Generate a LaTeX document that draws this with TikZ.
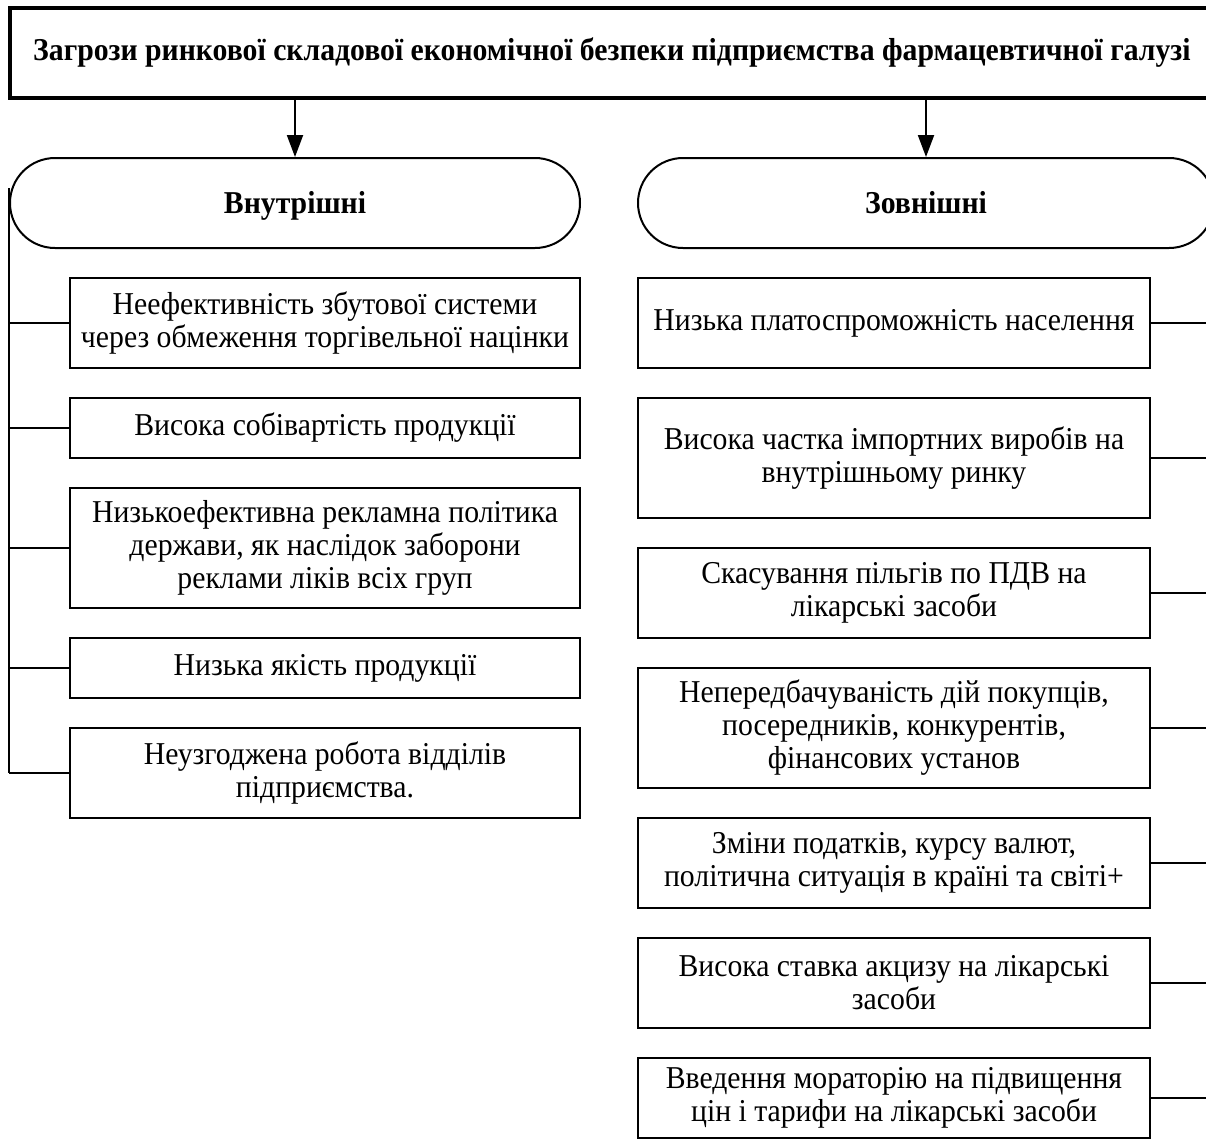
\documentclass[tikz,border=0pt]{standalone}
\usepackage{fontspec}
\setmainfont[FakeStretch=0.935]{Liberation Serif}
\usetikzlibrary{arrows.meta, positioning, calc}

\tikzset{
	threat/.style={draw, line width=2.5pt, align=center, inner sep=0pt, font=\fontsize{31.8}{33}\selectfont},
	group/.style={draw, line width=2pt, rounded corners=45pt, minimum height=90pt, inner sep=0pt, text height=24pt, text depth=4pt, font=\bfseries\fontsize{31.8}{33}\selectfont},
	link/.style={line width=2pt},
}

\begin{document}
\begin{tikzpicture}[x=1pt, y=-1pt]
	\useasboundingbox (0,0) rectangle (1206,1144);
	\clip (0,0) rectangle (1206,1144);

	\node[draw, line width=4pt, minimum width=1204pt, minimum height=90pt, inner sep=0pt, font=\bfseries\fontsize{31.8}{33}\selectfont] (top) at (612,53) {Загрози ринкової складової економічної безпеки підприємства фармацевтичної галузі};

	\node[group, minimum width=570pt] (int) at (295,203) {Внутрішні};
	\node[group, minimum width=576pt] (ext) at (926,203) {Зовнішні};
	\draw[link, ->, >={Triangle[length=22pt, width=16pt]}] (int.north |- top.south) -- (int.north);
	\draw[link, ->, >={Triangle[length=22pt, width=16pt]}] (ext.north |- top.south) -- (ext.north);

	% internal threats
	\node[threat, minimum width=510pt, minimum height=90pt] (l1) at (325,323) {Неефективність збутової системи\\через обмеження торгівельної націнки};
	\node[threat, minimum width=510pt, minimum height=60pt] (l2) at (325,428) {Висока собівартість продукції};
	\node[threat, minimum width=510pt, minimum height=120pt] (l3) at (325,548) {Низькоефективна рекламна політика\\держави, як наслідок заборони\\реклами ліків всіх груп};
	\node[threat, minimum width=510pt, minimum height=60pt] (l4) at (325,668) {Низька якість продукції};
	\node[threat, minimum width=510pt, minimum height=90pt] (l5) at (325,773) {Неузгоджена робота відділів\\підприємства.};

	% external threats
	\node[threat, minimum width=512pt, minimum height=90pt] (r1) at (894,323) {Низька платоспроможність населення};
	\node[threat, minimum width=512pt, minimum height=120pt] (r2) at (894,458) {Висока частка імпортних виробів на\\внутрішньому ринку};
	\node[threat, minimum width=512pt, minimum height=90pt] (r3) at (894,593) {Скасування пільгів по ПДВ на\\лікарські засоби};
	\node[threat, minimum width=512pt, minimum height=120pt] (r4) at (894,728) {Непередбачуваність дій покупців,\\посередників, конкурентів,\\фінансових установ};
	\node[threat, minimum width=512pt, minimum height=90pt] (r5) at (894,863) {Зміни податків, курсу валют,\\політична ситуація в країні та світі+};
	\node[threat, minimum width=512pt, minimum height=90pt] (r6) at (894,983) {Висока ставка акцизу на лікарські\\засоби};
	\node[threat, minimum width=512pt, minimum height=80pt] (r7) at (894,1098) {Введення мораторію на підвищення\\цін і тарифи на лікарські засоби};

	\draw[link] ($(int.west)+(0,-15)$) -- (int.west |- l5.west);
	\foreach \i in {1,...,5}
		\draw[link] (l\i.west) -- (int.west |- l\i.west);
	\draw[link] (ext.east) -- (ext.east |- r7.east);
	\foreach \i in {1,...,7}
		\draw[link] (r\i.east) -- (ext.east |- r\i.east);
\end{tikzpicture}
\end{document}
